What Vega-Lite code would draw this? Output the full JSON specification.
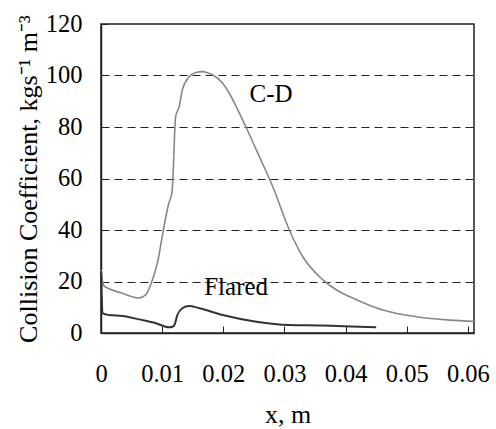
{
  "$schema": "https://vega.github.io/schema/vega-lite/v6.json",
  "width": 373,
  "height": 309,
  "autosize": {"type": "none"},
  "padding": {"left": 101, "top": 24, "right": 22, "bottom": 96},
  "background": "white",
  "config": {
    "font": "Liberation Serif",
    "view": {"stroke": "#222", "strokeWidth": 1.5}
  },
  "datasets": {
    "curves": [
      {"series": "C-D", "x": 0, "y": 24.5},
      {"series": "C-D", "x": 0.0004, "y": 18.5},
      {"series": "C-D", "x": 0.0015, "y": 17},
      {"series": "C-D", "x": 0.0034, "y": 15.5},
      {"series": "C-D", "x": 0.0062, "y": 13.6},
      {"series": "C-D", "x": 0.0073, "y": 14.8},
      {"series": "C-D", "x": 0.0084, "y": 20.6},
      {"series": "C-D", "x": 0.0093, "y": 28},
      {"series": "C-D", "x": 0.0101, "y": 38.7},
      {"series": "C-D", "x": 0.0111, "y": 50.5},
      {"series": "C-D", "x": 0.0116, "y": 54.4},
      {"series": "C-D", "x": 0.0118, "y": 62},
      {"series": "C-D", "x": 0.012, "y": 75},
      {"series": "C-D", "x": 0.0122, "y": 84},
      {"series": "C-D", "x": 0.0128, "y": 88},
      {"series": "C-D", "x": 0.0133, "y": 94.4},
      {"series": "C-D", "x": 0.0144, "y": 99.5},
      {"series": "C-D", "x": 0.0155, "y": 101.2},
      {"series": "C-D", "x": 0.0166, "y": 101.5},
      {"series": "C-D", "x": 0.0175, "y": 101},
      {"series": "C-D", "x": 0.0183, "y": 100.2},
      {"series": "C-D", "x": 0.0199, "y": 97},
      {"series": "C-D", "x": 0.021, "y": 93},
      {"series": "C-D", "x": 0.0221, "y": 88},
      {"series": "C-D", "x": 0.0237, "y": 80},
      {"series": "C-D", "x": 0.0259, "y": 68.5},
      {"series": "C-D", "x": 0.0281, "y": 56.8},
      {"series": "C-D", "x": 0.0308, "y": 40},
      {"series": "C-D", "x": 0.033, "y": 29.6},
      {"series": "C-D", "x": 0.0363, "y": 20.6},
      {"series": "C-D", "x": 0.039, "y": 16},
      {"series": "C-D", "x": 0.0407, "y": 14.1},
      {"series": "C-D", "x": 0.0435, "y": 11.2},
      {"series": "C-D", "x": 0.0461, "y": 8.9},
      {"series": "C-D", "x": 0.0516, "y": 6.3},
      {"series": "C-D", "x": 0.057, "y": 5},
      {"series": "C-D", "x": 0.061, "y": 4.5},
      {"series": "Flared", "x": 0, "y": 24},
      {"series": "Flared", "x": 0.0003, "y": 7.6},
      {"series": "Flared", "x": 0.0013, "y": 7},
      {"series": "Flared", "x": 0.0035, "y": 6.6},
      {"series": "Flared", "x": 0.0062, "y": 5.3},
      {"series": "Flared", "x": 0.009, "y": 3.8},
      {"series": "Flared", "x": 0.0111, "y": 2.2},
      {"series": "Flared", "x": 0.0117, "y": 2.4},
      {"series": "Flared", "x": 0.012, "y": 3.1},
      {"series": "Flared", "x": 0.0125, "y": 7},
      {"series": "Flared", "x": 0.0133, "y": 9.6},
      {"series": "Flared", "x": 0.0144, "y": 10.5},
      {"series": "Flared", "x": 0.0161, "y": 9.6},
      {"series": "Flared", "x": 0.0199, "y": 7},
      {"series": "Flared", "x": 0.0254, "y": 4.4},
      {"series": "Flared", "x": 0.0308, "y": 3.1},
      {"series": "Flared", "x": 0.036, "y": 2.9},
      {"series": "Flared", "x": 0.045, "y": 2.2}
    ],
    "labels": [
      {"text": "C-D", "x": 0.0278, "y": 93},
      {"text": "Flared", "x": 0.0221, "y": 18}
    ]
  },
  "layer": [
    {
      "data": {"name": "curves"},
      "mark": {"type": "line", "interpolate": "monotone"},
      "encoding": {
        "x": {
          "field": "x", "type": "quantitative",
          "scale": {"domain": [0, 0.061], "nice": false, "zero": false},
          "axis": {"title": "x, m", "values": [0, 0.01, 0.02, 0.03, 0.04, 0.05, 0.06], "format": ".2~f", "grid": false, "labelFont": "Liberation Serif", "titleFont": "Liberation Serif", "labelFontSize": 24.5, "titleFontSize": 26, "titleFontWeight": "normal", "labelColor": "#000", "titleColor": "#000", "domainColor": "#222", "domainWidth": 1.5, "tickColor": "#222", "tickWidth": 1, "tickSize": -7, "labelPadding": 36, "titlePadding": 16, "labelFlush": false}
        },
        "y": {
          "field": "y", "type": "quantitative",
          "scale": {"domain": [0, 120], "nice": false},
          "axis": {"title": "Collision Coefficient, kgs⁻¹ m⁻³", "values": [0, 20, 40, 60, 80, 100, 120], "grid": true, "gridDash": [8, 5], "gridColor": "#222", "gridWidth": 1, "gridOpacity": {"condition": {"test": "datum.value <= 0 || datum.value >= 120", "value": 0}, "value": 1}, "labelFont": "Liberation Serif", "titleFont": "Liberation Serif", "labelFontSize": 24.5, "titleFontSize": 26, "titleFontWeight": "normal", "labelColor": "#000", "titleColor": "#000", "domainColor": "#222", "domainWidth": 1.5, "tickColor": "#222", "tickWidth": 1, "tickSize": -7, "labelPadding": 26, "titlePadding": 4, "labelFlush": false}
        },
        "color": {"field": "series", "type": "nominal", "scale": {"domain": ["C-D", "Flared"], "range": ["#888888", "#333333"]}, "legend": null},
        "strokeWidth": {"field": "series", "type": "nominal", "scale": {"domain": ["C-D", "Flared"], "range": [1.6, 2]}, "legend": null}
      }
    },
    {
      "data": {"name": "labels"},
      "mark": {"type": "text", "fontSize": 25, "font": "Liberation Serif", "color": "#000", "align": "center", "baseline": "middle"},
      "encoding": {
        "x": {"field": "x", "type": "quantitative"},
        "y": {"field": "y", "type": "quantitative"},
        "text": {"field": "text"}
      }
    }
  ]
}
